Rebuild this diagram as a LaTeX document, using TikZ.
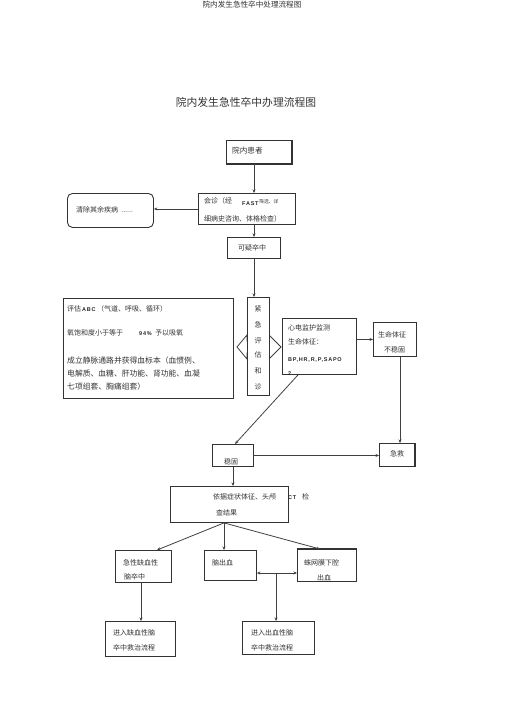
\documentclass[tikz,border=0pt]{standalone}
\usepackage{fontspec}
\setmainfont{Noto Sans CJK SC}
\newfontfamily\latb[LetterSpace=14]{Liberation Sans}
\usetikzlibrary{arrows.meta}
\begin{document}
\begin{tikzpicture}[x=1pt,y=-1pt,
  box/.style={draw=black!80,line width=0.9pt,fill=white,inner sep=0pt,anchor=north west},
  ln/.style={draw=black!75,line width=0.8pt},
  arr/.style={ln,-{Stealth[length=3.5pt,width=3pt]}},
  darr/.style={ln,{Stealth[length=3.5pt,width=3pt]}-{Stealth[length=3.5pt,width=3pt]}},
  txt/.style={anchor=west,inner sep=0pt,text=black!80,font=\fontsize{7}{8}\selectfont},
  ctxt/.style={txt,anchor=center},
  lat/.style={anchor=west,inner sep=0pt,text=black!85,font=\latb\bfseries\fontsize{5.5}{6}\selectfont},
  sml/.style={txt,font=\fontsize{4.8}{5}\selectfont}]
\useasboundingbox (0,0) rectangle (505,714);

% titles
\node[ctxt,font=\fontsize{7.6}{8}\selectfont] (hdr) at (252,5) {院内发生急性卒中处理流程图};
\node[ctxt,font=\fontsize{10.8}{12}\selectfont] (ttl) at (246,102) {院内发生急性卒中办理流程图};

% column coordinates
\coordinate (xa) at (254,0);
\coordinate (xb) at (400,0);
\coordinate (xc) at (298,0);
\coordinate (xd) at (235,0);
\coordinate (xe) at (233,0);
\coordinate (xf) at (224,0);
\coordinate (xg) at (157,0);
\coordinate (xh) at (320,0);
\coordinate (xi) at (141,0);
\coordinate (xj) at (276,0);
\coordinate (yk) at (0,573);

% boxes
\node[box,minimum width=65pt,minimum height=23pt] (pt) at (226,140) {};
\draw[black!80,line width=1.5pt] (pt.north east) -- (pt.south east) -- (pt.south west);
\node[box,minimum width=97pt,minimum height=31pt] (hz) at (198,193) {};
\node[box,rounded corners=5pt,minimum width=86pt,minimum height=34pt] (qc) at (67,193) {};
\node[box,minimum width=53pt,minimum height=21pt] (ky) at (227,237) {};
\node[box,minimum width=170pt,minimum height=100pt] (pg) at (63,298) {};

% double arrow behind the narrow box
\draw[ln,fill=white] (237,347) -- (247,335) -- (247,341) -- (269,341) -- (269,335) -- (281,347)
  -- (269,359) -- (269,353) -- (247,353) -- (247,359) -- cycle;
\node[box,minimum width=22pt,minimum height=98pt] (jj) at (247,297) {};

\node[box,minimum width=74pt,minimum height=56pt] (xdj) at (282,318) {};
\node[box,minimum width=43pt,minimum height=34pt] (bw) at (373,322) {};
\node[box,minimum width=41pt,minimum height=22pt] (wg) at (212,444) {};
\node[box,minimum width=35pt,minimum height=23pt] (jz) at (379,443) {};
\draw[black!80,line width=1.4pt] (jz.north east) -- (jz.south east);
\node[box,minimum width=118pt,minimum height=36pt] (yj) at (170,486) {};
\node[box,minimum width=56pt,minimum height=32pt] (qx) at (115,550) {};
\node[box,minimum width=52pt,minimum height=30pt] (nc) at (204,550) {};
\node[box,minimum width=59pt,minimum height=32pt] (zw) at (297,549) {};
\draw[black!80,line width=1.4pt] (zw.north west) -- (zw.north east);
\node[box,minimum width=70pt,minimum height=35pt] (jr1) at (105,621) {};
\node[box,minimum width=72pt,minimum height=33pt] (jr2) at (242,621) {};

% texts
\node[txt,font=\fontsize{7.6}{8}\selectfont] (t1) at (232,151) {院内患者};
\node[txt] (t2) at (76,210) {清除其余疾病\ \ ......};
\node[txt] (t3a) at (204,201) {会诊（经};
\node[lat] (t3b) at (242,204) {FAST};
\node[sml] (t3c) at (259,202) {筛选、详};
\node[txt] (t3d) at (204,219) {细病史咨询、体格检查）};
\node[txt] (t4) at (238,248) {可疑卒中};

\node[txt] (p1a) at (67,309) {评估};
\node[lat] (p1b) at (82,310) {ABC};
\node[txt] (p1c) at (97,309) {（气道、呼吸、循环）};
\node[txt] (p2a) at (67,333) {氧饱和度小于等于};
\node[lat] (p2b) at (139,334) {94\%};
\node[txt] (p2c) at (155,333) {予以吸氧};
\node[txt,font=\fontsize{7.8}{8}\selectfont] (p3) at (67,361) {成立静脉通路并获得血标本（血惯例、};
\node[txt,font=\fontsize{7.8}{8}\selectfont] (p4) at (67,374) {电解质、血糖、肝功能、肾功能、血凝};
\node[txt,font=\fontsize{7.8}{8}\selectfont] (p5) at (67,387) {七项组套、胸痛组套）};

\node[ctxt] (j1) at (258,309) {紧};
\node[ctxt] (j2) at (258,325) {急};
\node[ctxt] (j3) at (258,341) {评};
\node[ctxt] (j4) at (258,355) {估};
\node[ctxt] (j5) at (258,371) {和};
\node[ctxt] (j6) at (258,387) {诊};

\node[txt] (x1) at (288,328) {心电监护监测};
\node[txt] (x2) at (288,342) {生命体征：};
\node[lat] (x3) at (288,360) {BP,HR,R,P,SAPO};
\node[lat] (x4) at (288,374) {2};

\node[txt] (b1) at (378,335) {生命体征};
\node[txt] (b2) at (384,350) {不稳固};
\node[txt] (w1) at (224,462) {稳固};
\node[txt] (z1) at (390,454) {急救};

\node[txt] (y1) at (213,497) {依据症状体征、头颅};
\node[lat] (y2) at (288,498) {CT};
\node[txt] (y3) at (302,497) {检};
\node[txt] (y4) at (216,513) {查结果};

\node[txt] (q1) at (123,563) {急性缺血性};
\node[txt] (q2) at (124,577) {脑卒中};
\node[txt] (n1) at (212,563) {脑出血};
\node[txt] (s1) at (304,563) {蛛网膜下腔};
\node[txt] (s2) at (317,578) {出血};
\node[txt] (r1) at (113,633) {进入缺血性脑};
\node[txt] (r2) at (113,648) {卒中救治流程};
\node[txt] (r3) at (251,633) {进入出血性脑};
\node[txt] (r4) at (251,648) {卒中救治流程};

% connectors
\draw[arr] (pt.south -| xa) -- (hz.north -| xa);
\draw[arr] (hz.west) -- (qc.east |- hz.west);
\draw[arr] (hz.south -| xa) -- (ky.north -| xa);
\draw[arr] (ky.south -| xa) -- (jj.north -| xa);
\draw[arr] (bw.west -| xdj.east) -- (bw.west);
\draw[arr] (bw.south -| xb) -- (jz.north -| xb);
\draw[arr] (xdj.south -| xc) -- (wg.north -| xd);
\draw[arr] (wg.east) -- (jz.west |- wg.east);
\draw[arr] (wg.south -| xe) -- (yj.north -| xe);
\draw[arr] (yj.south -| xf) -- (qx.north -| xg);
\draw[arr] (yj.south -| xf) -- (nc.north -| xf);
\draw[arr] (yj.south -| xf) -- (zw.north -| xh);
\draw[darr] (nc.east |- yk) -- (zw.west |- yk);
\draw[arr] (yk -| xj) -- (jr2.north -| xj);
\draw[arr] (qx.south -| xi) -- (jr1.north -| xi);
\end{tikzpicture}
\end{document}
